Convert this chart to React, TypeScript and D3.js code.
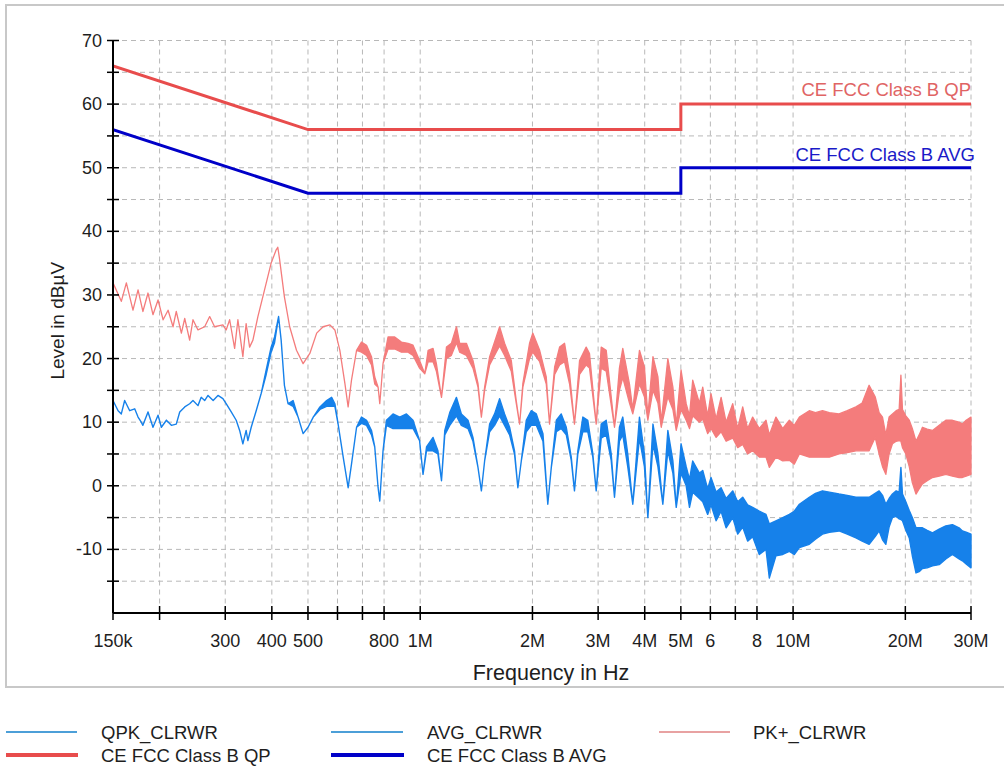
import React from "react";
import * as d3 from "d3";

// ---------- data ----------
const freqTicks = [0.15, 0.2, 0.3, 0.4, 0.5, 0.6, 0.7, 0.8, 1, 2, 3, 4, 5, 6, 7, 8, 10, 20, 30];
const freqLabels = ["150k", "", "300", "400", "500", "", "", "800", "1M", "2M", "3M", "4M", "5M", "6", "", "8", "10M", "20M", "30M"];
const levelLabels = [-10, 0, 10, 20, 30, 40, 50, 60, 70];
const levelMinor = [-15, -5, 5, 15, 25, 35, 45, 55, 65];

// limit lines [MHz, dBuV]
const qpLimit: [number, number][] = [[0.15, 66], [0.5, 56], [5, 56], [5, 60], [30, 60]];
const avgLimit: [number, number][] = [[0.15, 56], [0.5, 46], [5, 46], [5, 50], [30, 50]];

// traces [MHz, upper dBuV, lower dBuV]
const pkTrace: [number, number, number][] = [
  [0.150, 31.9, 31.9], [0.1579, 29.0, 29.0], [0.1629, 31.9, 31.9], [0.1697, 27.6, 27.6],
  [0.1751, 30.8, 30.8], [0.1804, 27.4, 27.4], [0.1862, 30.3, 30.3], [0.1920, 26.9, 26.9],
  [0.1981, 29.2, 29.2], [0.2044, 26.1, 26.1], [0.2108, 27.6, 27.6], [0.2173, 25.0, 25.0],
  [0.2217, 27.4, 27.4], [0.2288, 24.0, 24.0], [0.2336, 26.3, 26.3], [0.2408, 22.9, 22.9],
  [0.2458, 26.1, 26.1], [0.2535, 24.5, 24.5], [0.2642, 25.0, 25.0], [0.2725, 26.6, 26.6],
  [0.2809, 25.0, 25.0], [0.2957, 25.3, 25.3], [0.3017, 24.5, 24.5], [0.3083, 26.1, 26.1],
  [0.3179, 21.6, 21.6], [0.3244, 26.1, 26.1], [0.3345, 20.3, 20.3], [0.3413, 25.5, 25.5],
  [0.3487, 21.8, 21.8], [0.3559, 22.9, 22.9], [0.3670, 26.6, 26.6], [0.3824, 30.8, 30.8],
  [0.3983, 35.0, 35.0], [0.4109, 37.1, 37.1], [0.415, 37.5, 37.5], [0.4192, 35.8, 35.8],
  [0.4323, 29.7, 29.7], [0.4466, 25.0, 25.0], [0.4658, 21.3, 21.3], [0.4852, 19.2, 19.2],
  [0.5058, 20.8, 20.8], [0.5276, 24.0, 24.0], [0.549, 25.0, 25.0], [0.5727, 25.3, 25.3],
  [0.5904, 24.5, 24.5], [0.6088, 21.3, 21.3], [0.628, 16.1, 16.1], [0.6407, 12.4, 12.4],
  [0.6542, 16.6, 16.6], [0.675, 21.3, 21.3], [0.6958, 22.6, 21.0], [0.7179, 22.1, 20.5],
  [0.7402, 20.3, 19.0], [0.7552, 17.1, 16.0], [0.7710, 15.5, 15.5], [0.779, 12.9, 12.9],
  [0.7948, 19.2, 19.2], [0.8199, 23.4, 21.5], [0.8543, 23.4, 21.5], [0.8903, 22.6, 21.0],
  [0.9276, 22.4, 21.0], [0.9565, 22.1, 20.5], [0.996, 19.7, 18.5], [1.0286, 17.6, 17.6],
  [1.05, 21.3, 19.5], [1.0825, 21.6, 19.5], [1.105, 19.2, 18.0], [1.1404, 13.9, 13.9],
  [1.1759, 21.8, 20.0], [1.2123, 22.4, 20.5], [1.2508, 25.0, 22.5], [1.2762, 22.4, 21.0],
  [1.33, 22.4, 20.5], [1.385, 19.7, 18.5], [1.4286, 16.1, 15.5], [1.4589, 10.8, 10.8],
  [1.4884, 15.5, 15.0], [1.5352, 20.3, 19.0], [1.599, 23.4, 21.0], [1.6327, 25.0, 22.0],
  [1.6837, 22.4, 20.5], [1.7548, 19.7, 18.0], [1.8092, 13.4, 13.0], [1.8471, 9.7, 9.7],
  [1.8851, 16.1, 15.5], [1.9643, 22.4, 20.0], [2.0039, 24.0, 21.0], [2.0909, 21.3, 19.5],
  [2.1779, 17.1, 16.0], [2.2227, 9.7, 9.7], [2.2936, 18.7, 17.5], [2.3645, 21.8, 19.0],
  [2.4385, 22.4, 19.5], [2.5154, 17.6, 16.0], [2.5923, 9.7, 9.7], [2.675, 19.7, 17.5],
  [2.7867, 21.8, 19.0], [2.8446, 20.8, 18.5], [2.9643, 9.7, 9.7], [3.0577, 21.8, 18.5],
  [3.1538, 21.3, 18.0], [3.3192, 9.2, 9.2], [3.4217, 18.5, 15.0], [3.4935, 21.6, 17.0],
  [3.6409, 16.0, 13.0], [3.7159, 12.0, 11.3], [3.8723, 21.3, 16.0], [3.9928, 18.7, 14.0],
  [4.0785, 11.0, 10.3], [4.2094, 20.3, 15.0], [4.3403, 17.1, 13.0], [4.4293, 10.0, 9.2],
  [4.614, 20.0, 14.0], [4.7602, 15.5, 12.0], [4.8596, 9.5, 8.7], [5.0065, 18.2, 12.0],
  [5.1677, 12.9, 10.3], [5.2742, 11.0, 9.0], [5.3806, 16.6, 11.0], [5.6064, 13.0, 10.0],
  [5.7234, 15.5, 10.5], [5.9007, 11.0, 8.2], [6.0233, 14.5, 9.0], [6.2171, 10.5, 7.6],
  [6.4109, 13.9, 8.5], [6.6125, 10.0, 7.0], [6.8875, 12.9, 7.5], [7.1027, 9.0, 6.0],
  [7.3259, 12.4, 6.5], [7.5524, 9.0, 5.0], [7.7905, 10.8, 5.5], [8.1173, 9.0, 4.5],
  [8.4592, 10.3, 4.5], [8.6344, 8.0, 2.9], [8.9946, 10.8, 4.5], [9.3801, 9.0, 3.9],
  [9.7719, 10.3, 4.0], [10.0714, 9.5, 3.4], [10.396, 10.8, 5.0], [11.05, 11.8, 4.5],
  [11.48, 11.5, 4.5], [11.99, 11.8, 4.5], [12.51, 11.5, 4.5], [13.28, 11.3, 5.0],
  [13.97, 11.8, 5.2], [14.74, 12.4, 5.5], [15.32, 13.0, 5.5], [15.99, 15.8, 5.5],
  [16.6, 14.0, 7.6], [17.01, 11.5, 5.0], [17.37, 10.8, 3.0], [17.73, 8.0, 1.8],
  [18.09, 10.8, 5.0], [18.47, 11.3, 6.6], [18.9, 11.8, 7.0], [19.25, 12.0, 7.1],
  [19.46, 17.4, 7.0], [19.65, 12.0, 6.0], [20.06, 11.0, 5.0], [20.49, 10.3, 3.0],
  [20.88, 9.0, 0.5], [21.36, 7.0, -1.3], [21.78, 8.0, -0.5], [22.23, 9.2, 0.3],
  [22.89, 8.9, 0.8], [23.65, 8.7, 1.3], [24.65, 9.5, 1.5], [25.68, 10.3, 1.8],
  [26.75, 10.3, 1.5], [27.87, 10.0, 1.3], [28.45, 9.7, 1.3], [29.11, 10.3, 1.5],
  [30, 10.8, 1.8],
];

const avgTrace: [number, number, number][] = [
  [0.150, 13.4, 13.4], [0.1548, 11.8, 11.8], [0.1579, 11.3, 11.3], [0.1612, 13.4, 13.4],
  [0.1663, 11.8, 11.8], [0.1715, 12.1, 12.1], [0.1751, 10.8, 10.8], [0.1786, 10.0, 10.0],
  [0.1804, 9.5, 9.5], [0.1862, 11.6, 11.6], [0.1920, 9.2, 9.2], [0.1981, 11.1, 11.1],
  [0.2022, 9.2, 9.2], [0.2086, 10.3, 10.3], [0.2151, 9.5, 9.5], [0.2217, 9.7, 9.7],
  [0.2265, 11.6, 11.6], [0.2336, 12.4, 12.4], [0.2408, 12.9, 12.9], [0.2458, 13.4, 13.4],
  [0.2535, 12.6, 12.6], [0.2586, 13.9, 13.9], [0.2642, 13.4, 13.4], [0.2697, 14.2, 14.2],
  [0.2784, 13.4, 13.4], [0.2868, 14.2, 14.2], [0.2957, 13.7, 13.7], [0.3017, 12.9, 12.9],
  [0.3113, 11.6, 11.6], [0.321, 10.3, 10.3], [0.3279, 8.7, 8.7], [0.3345, 6.6, 6.6],
  [0.3413, 8.7, 8.7], [0.3450, 7.1, 7.1], [0.3522, 9.2, 9.2], [0.3632, 11.8, 11.8],
  [0.3745, 14.5, 14.5], [0.3863, 18.2, 17.5], [0.3983, 21.8, 21.0], [0.4068, 23.4, 22.5],
  [0.417, 26.6, 26.6], [0.4237, 22.9, 22.9], [0.4323, 15.8, 15.8], [0.4421, 12.9, 12.9],
  [0.4561, 13.4, 12.5], [0.4704, 10.8, 10.8], [0.4852, 8.2, 8.2], [0.5003, 9.2, 9.2],
  [0.5166, 10.8, 10.8], [0.5383, 12.4, 12.0], [0.561, 13.4, 12.5], [0.5787, 13.9, 12.5],
  [0.5904, 12.9, 12.5], [0.6023, 9.7, 9.7], [0.6215, 4.5, 4.5], [0.6408, -0.3, -0.3],
  [0.6542, 3.4, 3.4], [0.675, 9.2, 9.2], [0.6958, 10.8, 9.8], [0.7179, 10.3, 9.5],
  [0.7402, 8.7, 8.0], [0.7552, 6.1, 6.1], [0.771, -0.3, -0.3], [0.779, -2.4, -2.4],
  [0.7948, 5.5, 5.5], [0.8117, 10.3, 9.5], [0.8454, 11.3, 9.0], [0.8812, 10.8, 9.0],
  [0.9184, 11.3, 9.0], [0.9565, 10.3, 9.0], [0.996, 7.1, 7.1], [1.0175, 1.8, 1.8],
  [1.0396, 6.1, 5.5], [1.0825, 7.6, 5.5], [1.1156, 5.5, 5.0], [1.1404, 0.8, 0.8],
  [1.1638, 8.7, 8.0], [1.2, 11.5, 9.5], [1.2508, 13.9, 11.0], [1.2892, 11.3, 9.5],
  [1.3433, 10.3, 9.0], [1.385, 7.6, 7.0], [1.4286, 2.9, 2.9], [1.4589, -0.8, -0.8],
  [1.4884, 3.9, 3.9], [1.5352, 9.7, 8.5], [1.5829, 11.3, 9.5], [1.6327, 13.7, 11.0],
  [1.6837, 11.3, 9.5], [1.7366, 9.2, 8.0], [1.7903, 5.5, 5.0], [1.8276, -0.3, -0.3],
  [1.8667, 3.9, 3.9], [1.925, 10.3, 8.5], [1.9845, 11.8, 9.5], [2.048, 11.3, 9.5],
  [2.1338, 8.2, 7.0], [2.1987, -2.9, -2.9], [2.2468, 2.9, 2.9], [2.3177, 10.3, 8.5],
  [2.3887, 11.3, 9.0], [2.4646, 9.2, 8.0], [2.5415, 4.5, 4.0], [2.5923, -0.8, -0.8],
  [2.6467, 5.5, 5.0], [2.73, 10.8, 8.5], [2.8143, 10.3, 8.5], [2.9036, 5.0, 4.5],
  [2.9643, -0.8, -0.8], [3.0577, 9.7, 7.5], [3.1538, 10.3, 8.0], [3.2525, 5.0, 4.0],
  [3.3192, -1.8, -1.8], [3.4217, 9.2, 7.0], [3.4935, 10.8, 8.0], [3.6023, 5.0, 3.0],
  [3.7159, -2.9, -2.9], [3.8723, 10.8, 7.5], [3.9928, 5.0, 3.0], [4.0785, -5.0, -5.0],
  [4.2094, 9.7, 6.5], [4.3403, 5.0, 3.0], [4.4738, -2.9, -2.9], [4.614, 8.7, 5.5],
  [4.7602, 3.9, 2.0], [4.8596, -3.4, -3.4], [5.0065, 6.6, 2.0], [5.1677, 3.0, 0.0],
  [5.2742, 1.0, -3.4], [5.3806, 3.9, -1.0], [5.6064, 2.0, -2.0], [5.7234, 2.4, -2.5],
  [5.9007, -0.5, -4.5], [6.0233, 1.3, -3.0], [6.2171, -1.0, -5.5], [6.4109, -0.3, -4.0],
  [6.6125, -2.0, -6.6], [6.8875, -0.8, -5.0], [7.1027, -2.5, -7.6], [7.3259, -1.8, -6.5],
  [7.5524, -3.0, -8.7], [7.7905, -3.4, -8.0], [8.1173, -4.0, -10.8], [8.4592, -4.5, -10.0],
  [8.6344, -6.0, -14.5], [8.9946, -5.5, -11.0], [9.3801, -5.0, -10.8], [9.7719, -4.5, -10.3],
  [10.0714, -4.0, -10.8], [10.396, -2.9, -9.7], [11.05, -1.8, -9.2], [11.48, -1.2, -8.4],
  [11.99, -0.8, -7.6], [12.51, -1.0, -7.3], [13.28, -1.3, -7.1], [13.97, -1.5, -7.6],
  [14.74, -1.8, -8.2], [15.32, -1.8, -8.7], [15.99, -1.8, -9.2], [16.6, -1.2, -8.0],
  [17.01, -0.8, -7.1], [17.37, -1.5, -8.5], [17.73, -2.9, -9.2], [18.09, -2.0, -6.5],
  [18.47, -1.3, -5.0], [18.9, -0.8, -4.8], [19.25, -1.0, -5.2], [19.46, 2.9, -5.3],
  [19.65, -1.3, -5.5], [20.06, -2.5, -7.0], [20.49, -3.9, -8.2], [20.88, -5.0, -11.0],
  [21.36, -6.6, -13.7], [21.78, -6.6, -13.5], [22.23, -6.6, -13.0], [22.89, -7.0, -12.9],
  [23.65, -7.4, -12.6], [24.65, -6.8, -12.4], [25.68, -6.3, -11.5], [26.75, -6.1, -10.8],
  [27.87, -6.6, -11.5], [28.45, -7.1, -11.8], [29.11, -7.3, -12.3], [30, -7.6, -12.9],
];

// ---------- styling ----------
const FONT = "'Liberation Sans', Arial, sans-serif";
const TXT = "#1e1e1e";
const GRID = "#b8b8b8";
const PK_COLOR = "#f47c7c";
const AVG_COLOR = "#1681ea";
const QP_LIM = "#e84c4c";
const AVG_LIM = "#0000c8";

export default function App() {
  const W = 1004, H = 769;
  const x = d3.scaleLog().domain([0.15, 30]).range([113, 971]);
  const y = d3.scaleLinear().domain([-20, 70]).range([613, 40.5]);
  const x0 = x(0.15), x1 = x(30), yTop = y(70), yBot = y(-20);

  const band = d3.area<[number, number, number]>()
    .x(d => x(d[0])).y0(d => y(d[2])).y1(d => y(d[1]));
  const limLine = d3.line<[number, number]>().x(d => x(d[0])).y(d => y(d[1]));

  const gridLevels = [...levelLabels, ...levelMinor].filter(v => v > -20);

  return (
    <svg width={W} height={H} style={{ position: "absolute", left: 0, top: 0, display: "block", background: "#fff" }}
      fontFamily={FONT}>
      <rect x={6} y={5} width={1010} height={682} fill="none" stroke="#c8c8c8" strokeWidth={2} />
      <defs>
        <clipPath id="plotClip">
          <rect x={x0} y={yTop - 2} width={x1 - x0 + 1} height={yBot - yTop + 2} />
        </clipPath>
      </defs>
      {/* grid */}
      {gridLevels.map(v => (
        <line key={"gh" + v} x1={x0} x2={x1} y1={y(v)} y2={y(v)} stroke={GRID} strokeDasharray="5,4" strokeWidth={1} />
      ))}
      {freqTicks.slice(1).map(f => (
        <line key={"gv" + f} x1={x(f)} x2={x(f)} y1={yTop} y2={yBot} stroke={GRID} strokeDasharray="5,4" strokeWidth={1} />
      ))}
      {/* traces */}
      <g clipPath="url(#plotClip)">
        <path d={band(pkTrace) || ""} fill={PK_COLOR} stroke={PK_COLOR} strokeWidth={1.3} strokeLinejoin="round" />
        <path d={band(avgTrace) || ""} fill={AVG_COLOR} stroke={AVG_COLOR} strokeWidth={1.4} strokeLinejoin="round" />
        <path d={limLine(qpLimit) || ""} fill="none" stroke={QP_LIM} strokeWidth={3} />
        <path d={limLine(avgLimit) || ""} fill="none" stroke={AVG_LIM} strokeWidth={3} />
      </g>
      <text x={971} y={96} textAnchor="end" fontSize={18.5} fill="#e06464">CE FCC Class B QP</text>
      <text x={975} y={161} textAnchor="end" fontSize={18.5} fill="#1a1ac8">CE FCC Class B AVG</text>
      {/* axes */}
      <line x1={x0} x2={x0} y1={yTop} y2={yBot} stroke="#000" strokeWidth={2} />
      <line x1={x0} x2={x1} y1={yBot} y2={yBot} stroke="#000" strokeWidth={2} />
      {[...levelLabels, ...levelMinor].map(v => (
        <line key={"yt" + v} x1={x0 - 6} x2={x0 + 6} y1={y(v)} y2={y(v)} stroke="#000" strokeWidth={1.5} />
      ))}
      {levelLabels.map(v => (
        <text key={"yl" + v} x={102} y={y(v)} textAnchor="end" dominantBaseline="central" fontSize={18} fill={TXT}>{v}</text>
      ))}
      {freqTicks.map(f => (
        <line key={"xt" + f} x1={x(f)} x2={x(f)} y1={yBot - 7} y2={yBot + 7} stroke="#000" strokeWidth={1.5} />
      ))}
      {freqTicks.map((f, i) => freqLabels[i] ? (
        <text key={"xl" + f} x={x(f)} y={641} textAnchor="middle" dominantBaseline="central" fontSize={18} fill={TXT}>{freqLabels[i]}</text>
      ) : null)}
      <text x={551} y={673} textAnchor="middle" dominantBaseline="central" fontSize={21.5} fill={TXT}>Frequency in Hz</text>
      <text transform={`translate(57,${(yTop + yBot) / 2 - 6}) rotate(-90)`} textAnchor="middle" dominantBaseline="central" fontSize={19} fill={TXT}>Level in dBµV</text>
      {/* legend */}
      <line x1={6} x2={77} y1={732} y2={732} stroke="#4c9fd8" strokeWidth={2} />
      <text x={101} y={732} dominantBaseline="central" fontSize={18.5} fill={TXT}>QPK_CLRWR</text>
      <line x1={331} x2={403} y1={732} y2={732} stroke="#4c9fd8" strokeWidth={2} />
      <text x={427} y={732} dominantBaseline="central" fontSize={18.5} fill={TXT}>AVG_CLRWR</text>
      <line x1={659} x2={730} y1={732} y2={732} stroke="#e8a2a2" strokeWidth={2} />
      <text x={753} y={732} dominantBaseline="central" fontSize={18.5} fill={TXT}>PK+_CLRWR</text>
      <line x1={6} x2={78} y1={755} y2={755} stroke={QP_LIM} strokeWidth={4} />
      <text x={101} y={755} dominantBaseline="central" fontSize={18.5} fill={TXT}>CE FCC Class B QP</text>
      <line x1={331} x2={404} y1={755} y2={755} stroke={AVG_LIM} strokeWidth={4} />
      <text x={427} y={755} dominantBaseline="central" fontSize={18.5} fill={TXT}>CE FCC Class B AVG</text>
    </svg>
  );
}
